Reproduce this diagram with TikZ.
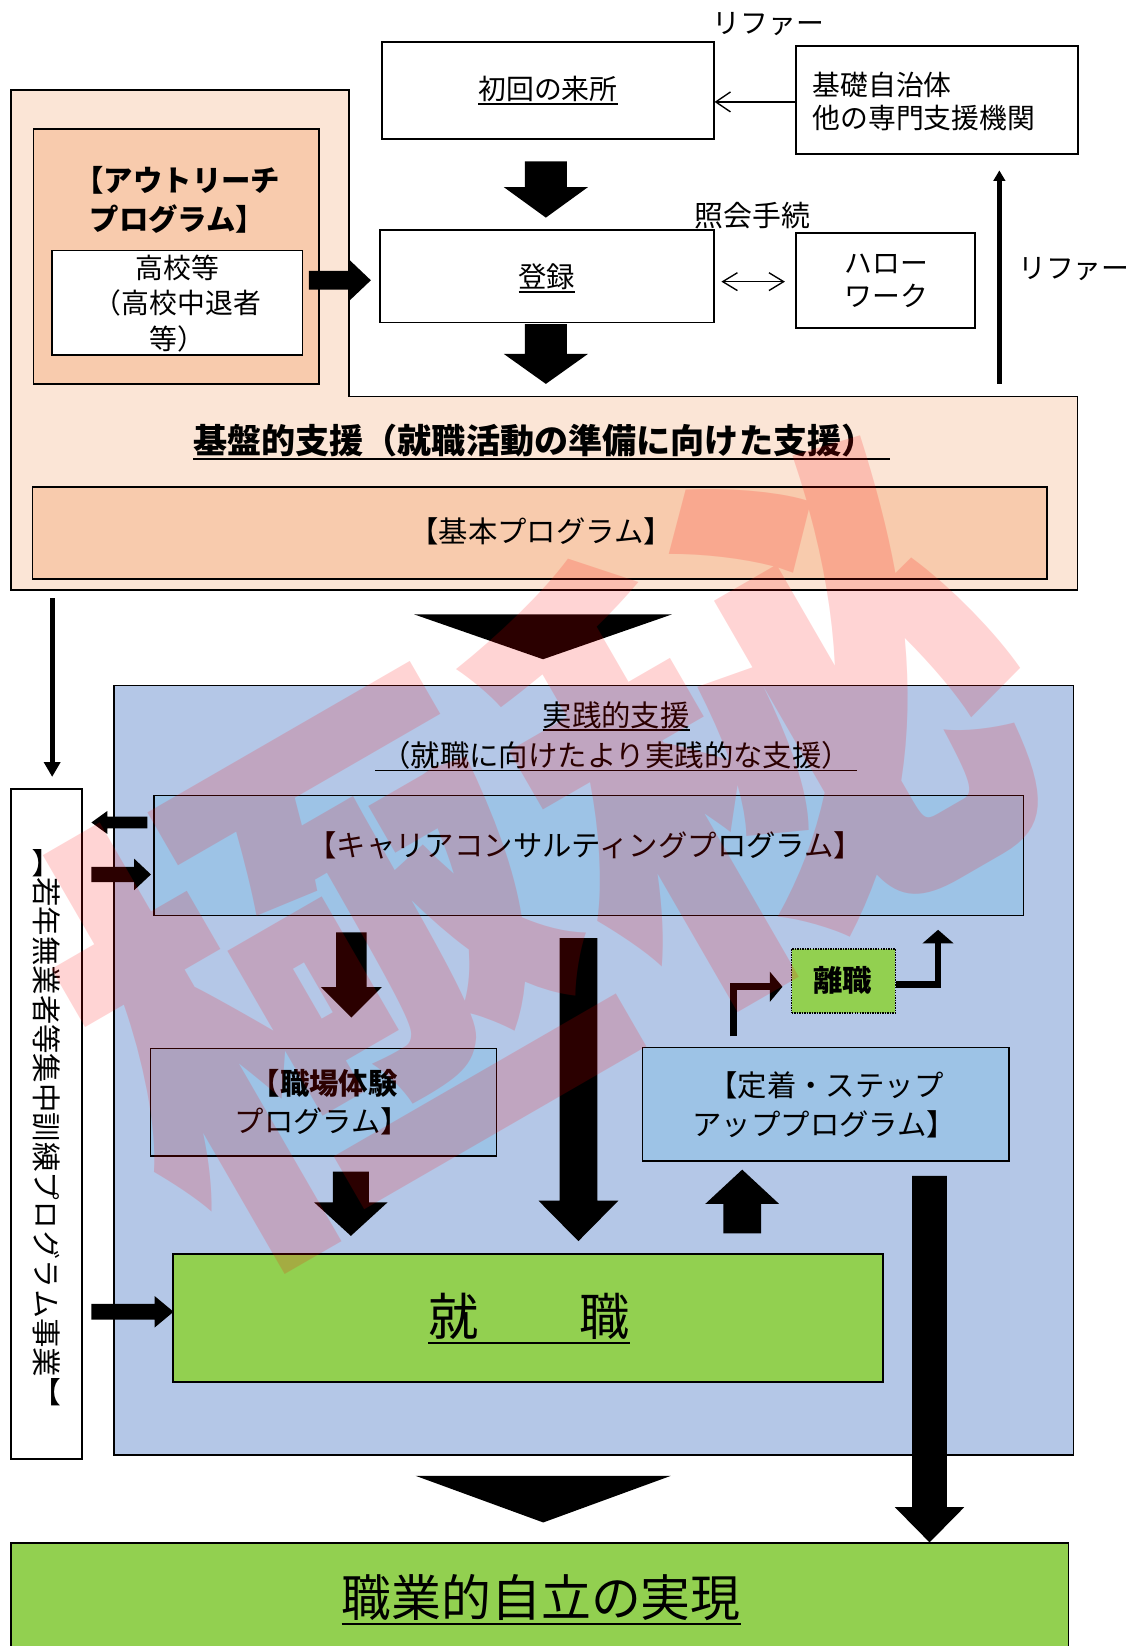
\documentclass[tikz,border=0pt]{standalone}
\usepackage{fontspec}
\setmainfont{Noto Sans CJK JP}
\newfontfamily\vjp{Noto Sans CJK JP}[Vertical=RotatedGlyphs]
\usetikzlibrary{arrows.meta,calc}
\definecolor{peachL}{HTML}{FBE5D6}
\definecolor{peachD}{HTML}{F8CBAD}
\definecolor{blueR}{HTML}{B4C7E7}
\definecolor{blueB}{HTML}{9DC3E6}
\definecolor{greenB}{HTML}{92D050}
\newcommand\ulx[1]{\leavevmode\setbox0=\hbox{#1}\rlap{\rule[-0.17em]{\wd0}{1.8pt}}\box0}
\newcommand\fz[2]{\fontsize{#1}{#2}\selectfont}
\newcommand\arrD[5]{\fill ($(#1)+(-#3,0)$) -- ($(#2)+(-#3,-#5)$) -- ($(#2)+(-#4,-#5)$) -- (#2) -- ($(#2)+(#4,-#5)$) -- ($(#2)+(#3,-#5)$) -- ($(#1)+(#3,0)$) -- cycle;}
\newcommand\arrU[5]{\fill ($(#1)+(-#3,0)$) -- ($(#2)+(-#3,#5)$) -- ($(#2)+(-#4,#5)$) -- (#2) -- ($(#2)+(#4,#5)$) -- ($(#2)+(#3,#5)$) -- ($(#1)+(#3,0)$) -- cycle;}
\newcommand\arrR[5]{\fill ($(#1)+(0,-#3)$) -- ($(#2)+(-#5,-#3)$) -- ($(#2)+(-#5,-#4)$) -- (#2) -- ($(#2)+(-#5,#4)$) -- ($(#2)+(-#5,#3)$) -- ($(#1)+(0,#3)$) -- cycle;}
\newcommand\arrL[5]{\fill ($(#1)+(0,-#3)$) -- ($(#2)+(#5,-#3)$) -- ($(#2)+(#5,-#4)$) -- (#2) -- ($(#2)+(#5,#4)$) -- ($(#2)+(#5,#3)$) -- ($(#1)+(0,#3)$) -- cycle;}
\begin{document}
\begin{tikzpicture}[x=1pt,y=-1pt,
  bx/.style={draw=black,line width=1.4pt,inner sep=0pt},
  tx/.style={inner sep=0pt},
  barb/.style={line width=1.3pt,-{Straight Barb[length=14pt,width=19pt]}},
  dbarb/.style={line width=1.3pt,{Straight Barb[length=14pt,width=17pt]}-{Straight Barb[length=14pt,width=17pt]}},
  wmstyle/.style={text=red,opacity=0.17,rotate=30,inner sep=0pt,font=\fz{485}{485}\bfseries}]
\useasboundingbox (0,0) rectangle (1085,1568);

% regions
\filldraw[fill=peachL,draw=black,line width=1.4pt] (10.4,85.7) -- (332.6,85.7) -- (332.6,377.8) -- (1026.5,377.8) -- (1026.5,562) -- (10.4,562) -- cycle;
\node[bx,fill=blueR,minimum width=913.8pt,minimum height=733pt] (prac) at (565.5,1019.5) {};

% top boxes
\node[bx,fill=white,minimum width=316pt,minimum height=92.5pt] (first) at (522,86.25) {};
\node[tx,anchor=base,font=\fz{26.5}{30}] (firstT) at (522,95.1) {\ulx{初回の来所}};
\node[bx,fill=white,minimum width=268.5pt,minimum height=103pt] (muni) at (892.7,95.1) {};
\node[tx,anchor=west,align=left,font=\fz{26.5}{31}] (muniT) at (774,96.5) {基礎自治体\\他の専門支援機関};
\node[tx,anchor=base,font=\fz{26.5}{30}] (refer1) at (732,32) {リファー};
\node[bx,fill=white,minimum width=318pt,minimum height=88pt] (reg) at (521,263) {};
\node[tx,anchor=base,font=\fz{27}{30}] (regT) at (521,274.3) {\ulx{登録}};
\node[tx,anchor=base,font=\fz{27.5}{30}] (inq) at (717,215.5) {照会手続};
\node[bx,fill=white,minimum width=170.5pt,minimum height=90.7pt] (hw) at (843.7,267.3) {};
\node[tx,align=center,font=\fz{26.5}{31.5}] (hwT) at (844.5,267.7) {ハロー\\ワーク};
\node[tx,anchor=base,font=\fz{26.5}{30}] (refer2) at (1023,265.7) {リファー};

% outreach
\node[bx,fill=peachD,minimum width=272pt,minimum height=243pt] (out) at (168,244.5) {};
\node[tx,align=center,font=\fz{28}{37}\bfseries] (outT) at (169,190.5) {【アウトリーチ\\プログラム】};
\node[bx,fill=white,minimum width=238.5pt,minimum height=99.2pt] (hs) at (168.75,288.4) {};
\node[tx,align=center,font=\fz{26.5}{34}] (hsT) at (169,289) {高校等\\（高校中退者\\等）};

% basic support
\node[tx,anchor=base,font=\fz{32.5}{36}\bfseries] (baseT) at (516,432.4) {\ulx{基盤的支援（就職活動の準備に向けた支援）\hspace{14pt}}};
\node[bx,fill=peachD,minimum width=966.5pt,minimum height=87.5pt] (basic) at (514.25,507.75) {};
\node[tx,anchor=base,font=\fz{28}{30}] (basicT) at (515.5,517.2) {【基本プログラム】};

% practical support
\node[tx,align=center,font=\fz{28}{38.2}] (pracT) at (587,701.6) {\ulx{実践的支援}\\\ulx{\hspace{6pt}（就職に向けたより実践的な支援）\hspace{6pt}}};
\node[bx,fill=white,minimum width=67.6pt,minimum height=638.4pt] (youth) at (44.2,1070.8) {};
\node[tx,rotate=-90,font=\fz{28}{30}\vjp] (youthT) at (44.4,1074) {【若年無業者等集中訓練プログラム事業】};
\node[bx,fill=blueB,minimum width=828.3pt,minimum height=114pt] (career) at (560.85,815) {};
\node[tx,anchor=base,font=\fz{28}{30}] (careerT) at (557.5,815.6) {【キャリアコンサルティングプログラム】};
\node[bx,fill=blueB,minimum width=329.5pt,minimum height=102.4pt] (wp) at (308.25,1049.8) {};
\node[tx,anchor=east,align=right,font=\fz{28}{36.5}] (wpT) at (379,1050.2) {\textbf{【職場体験}\\プログラム】\hspace*{-12pt}};
\node[bx,fill=blueB,minimum width=349pt,minimum height=108pt] (teich) at (786.5,1052) {};
\node[tx,anchor=east,align=right,font=\fz{28}{37.5}] (teichT) at (899,1052.2) {【定着・ステップ\\アッププログラム】\hspace*{-12pt}};
\node[bx,fill=greenB,densely dotted,line width=1.2pt,minimum width=99pt,minimum height=61pt] (rish) at (803.5,934.5) {};
\node[tx,anchor=base,font=\fz{28}{30}\bfseries] (rishT) at (803,944.6) {離職};
\node[bx,fill=greenB,minimum width=676pt,minimum height=122pt] (job) at (503,1255.6) {};
\node[tx,anchor=base,font=\fz{48}{50}] (jobT) at (504,1272) {\ulx{就　　職}};
\node[bx,fill=greenB,minimum width=1007.6pt,minimum height=140pt] (final) at (514.2,1540) {};
\node[tx,anchor=base,font=\fz{47.5}{50}] (finalT) at (515.5,1540) {\ulx{職業的自立の実現}};

% thin connectors
\coordinate (m1) at ($(muni.west)+(0,2)$);
\draw[barb] (m1) -- (m1 -| first.east);
\coordinate (d1) at ($(reg.east)+(6.5,5.3)$);
\draw[dbarb] (d1) -- ($(d1 -| hw.west)+(-10,0)$);
\coordinate (rv) at ($(muni.south)+(59.3,218.3)$);
\draw[line width=4.8pt,-{Triangle[length=10pt,width=11pt]},shorten >=15pt] (rv) -- (rv |- muni.south);
\coordinate (lv) at ($(youth.north)+(5.5,-181)$);
\draw[line width=4.5pt,-{Triangle[length=14pt,width=15pt]},shorten >=10.8pt] (lv) -- (lv |- youth.north);
\coordinate (e1s) at ($(teich.north)+(-87.5,-10)$);
\coordinate (e1c) at ($(rish.west)+(0,5.5)$);
\draw[line width=6.4pt,-{Triangle[length=12pt,width=28pt]},shorten >=8pt] (e1s) |- (e1c);
\coordinate (e2s) at ($(rish.east)+(0,3.5)$);
\coordinate (e2c) at ($(e2s)+(40,0)$);
\draw[line width=6.4pt,-{Triangle[length=13pt,width=29pt]},shorten >=13pt] (e2s) -| (e2c |- career.south);

% block arrows
\coordinate (s1) at ($(first.south)+(-2,20.5)$);
\coordinate (t1) at ($(reg.north)+(-1,-11)$);
\arrD{s1}{t1}{20}{40}{29}
\coordinate (s2) at ($(reg.south)+(-1,1)$);
\coordinate (t2) at ($(reg.south)+(-1,58)$);
\arrD{s2}{t2}{20}{40}{28.5}
\coordinate (s3) at ($(hs.east)+(5.6,-21.4)$);
\coordinate (t3) at ($(reg.west)+(-8,4)$);
\arrR{s3}{t3}{9}{19}{20}
\coordinate (s4) at ($(career.west)+(-5.7,-31.5)$);
\coordinate (t4) at ($(s4 -| youth.east)+(8.4,0)$);
\arrL{s4}{t4}{5.5}{11}{15.2}
\coordinate (s5) at ($(youth.east |- career.west)+(8.4,18)$);
\coordinate (t5) at ($(career.west)+(-2.2,18)$);
\arrR{s5}{t5}{7.3}{15}{16}
\coordinate (s6) at ($(career.south -| wp.north)+(26.5,15.5)$);
\coordinate (t6) at ($(wp.north)+(26.5,-28.6)$);
\arrD{s6}{t6}{14.5}{29}{29}
\coordinate (s7) at ($(career.south -| job.north)+(48,21)$);
\coordinate (t7) at ($(job.north)+(48,-11.6)$);
\arrD{s7}{t7}{18}{38}{38.5}
\coordinate (s8) at ($(wp.south)+(26,14.5)$);
\coordinate (t8) at ($(wp.south |- job.north)+(26,-16.6)$);
\arrD{s8}{t8}{17.25}{35}{32}
\coordinate (s9) at ($(youth.east |- job.west)+(8.4,-6)$);
\coordinate (t9) at ($(job.west)+(1,-6)$);
\arrR{s9}{t9}{7.5}{15}{18}
\coordinate (s10) at ($(job.north -| teich.south)+(-79.5,-19)$);
\coordinate (t10) at ($(teich.south)+(-79.5,7.5)$);
\arrU{s10}{t10}{18}{35}{32.5}
\coordinate (s11) at ($(teich.south)+(99,13.5)$);
\coordinate (t11) at ($(teich.south |- final.north)+(99,0)$);
\arrD{s11}{t11}{16.5}{33}{33.5}

% big triangles
\coordinate (tri1) at ($(prac.north)+(-48.2,-24.3)$);
\fill ($(tri1)+(-122.7,-42.7)$) -- ($(tri1)+(122.7,-42.7)$) -- (tri1) -- cycle;
\coordinate (tri2) at ($(final.north)+(3.3,-19)$);
\fill ($(tri2)+(-121.5,-44.4)$) -- ($(tri2)+(121.5,-44.4)$) -- (tri2) -- cycle;

% watermark
\node[wmstyle] (wmark) at (519,805) {極秘};
\end{tikzpicture}
\end{document}
